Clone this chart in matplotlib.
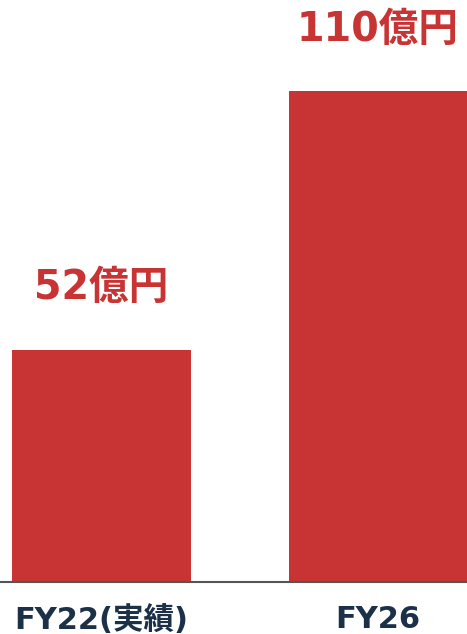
import matplotlib
matplotlib.use("Agg")
import matplotlib.pyplot as plt

# Latin glyphs from DejaVu (wide), kanji falls back to Noto CJK
plt.rcParams['font.family'] = ['DejaVu Sans', 'Noto Sans CJK JP']

# ── Data ──────────────────────────────────────────────
CATEGORIES = ["FY22(実績)", "FY26"]
VALUES     = [52, 110]
LABELS     = ["52億円", "110億円"]

BAR_COLOR  = "#C83333"
TICK_COLOR = "#1C3048"

# ── Plot ──────────────────────────────────────────────
fig = plt.figure(figsize=(4.67, 6.34), dpi=100)
ax = fig.add_axes([0, 52 / 634, 1, 582 / 634])

x = range(len(CATEGORIES))
ax.bar(x, VALUES, width=0.647, color=BAR_COLOR)

for xi, v, lab in zip(x, VALUES, LABELS):
    ax.annotate(lab, (xi, v), xytext=(0, 30), textcoords="offset points",
                ha="center", va="bottom", fontsize=28.5, fontweight="bold",
                color=BAR_COLOR)

ax.set_xlim(-0.367, 1.322)
ax.set_ylim(0, 130.5)
ax.set_xticks(list(x))
ax.set_xticklabels(CATEGORIES, fontsize=22, fontweight="bold", color=TICK_COLOR)
ax.tick_params(axis="x", length=0, pad=16.5)
ax.set_yticks([])

for s in ["top", "left", "right"]:
    ax.spines[s].set_visible(False)
ax.spines["bottom"].set_color("#555555")
ax.spines["bottom"].set_linewidth(1.5)

fig.savefig("out.png", dpi=100)
